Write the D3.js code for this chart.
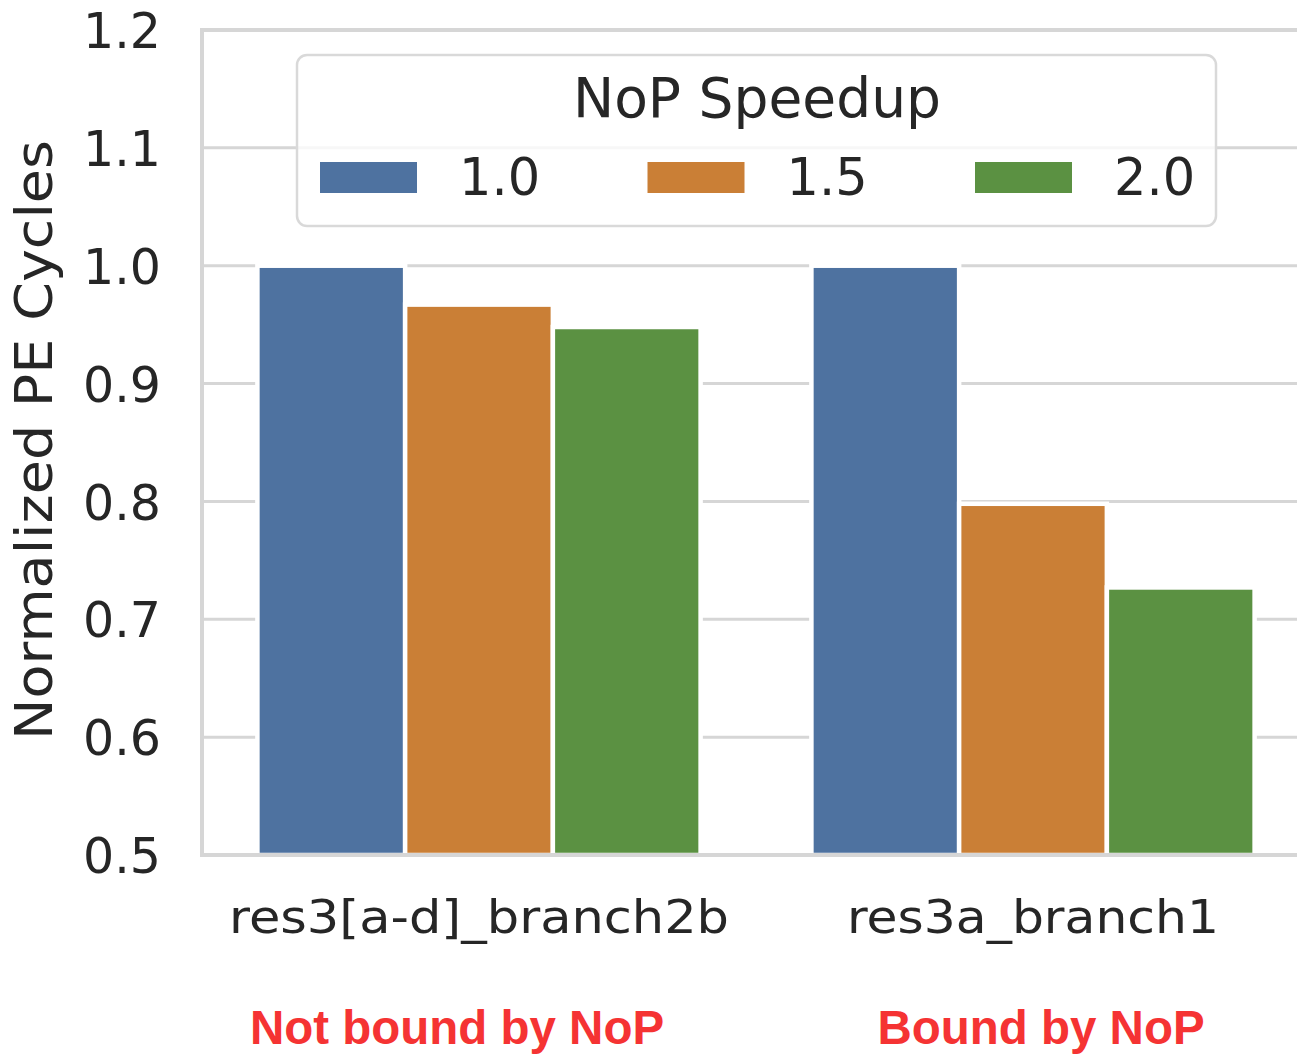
<!DOCTYPE html>
<html>
<head>
<meta charset="utf-8">
<script src="https://cdn.jsdelivr.net/npm/d3@7"></script>
<style>
  html, body { margin: 0; padding: 0; background: #fff; }
  svg { display: block; }
</style>
</head>
<body>
<svg id="chart" width="1297" height="1054"></svg>
<script>
const categories = ["res3[a-d]_branch2b", "res3a_branch1"];
const bottomLabels = ["Not bound by NoP", "Bound by NoP"];
const speedups = ["1.0", "1.5", "2.0"];
const values10 = [1.0, 1.0];
const values15 = [0.967, 0.798];
const values20 = [0.948, 0.727];
const yTicks = [0.5, 0.6, 0.7, 0.8, 0.9, 1.0, 1.1, 1.2];
const colors = ["#4e72a0", "#ca7f36", "#5b9142"];
const legendTitle = "NoP Speedup";
const yTitle = "Normalized PE Cycles";

(function () {
const seriesValues = [values10, values15, values20];
const svg = d3.select("#chart");
const pLeft = 202, pTop = 30, pBottom = 855;
const pRight = pLeft + 2 * 554;

const y = d3.scaleLinear().domain([0.5, 1.2]).range([pBottom, pTop]);
const x0 = d3.scaleBand().domain(categories).range([pLeft, pRight]).paddingInner(0.2).paddingOuter(0.1);
const x1 = d3.scaleBand().domain(speedups).range([0, x0.bandwidth()]);

const grid = "#d6d6d6";
const font = "DejaVu Sans, sans-serif";
const ink = "#262626";

// gridlines
svg.append("g").selectAll("line").data(yTicks).join("line")
  .attr("x1", pLeft).attr("x2", 1297)
  .attr("y1", d => y(d)).attr("y2", d => y(d))
  .attr("stroke", grid).attr("stroke-width", 3);

// bars
const groups = svg.append("g").selectAll("g").data(categories).join("g")
  .attr("transform", d => `translate(${x0(d)},0)`);
groups.selectAll("rect")
  .data((c, ci) => speedups.map((s, si) => ({ s, si, v: seriesValues[si][ci] })))
  .join("rect")
  .attr("x", d => x1(d.s))
  .attr("width", x1.bandwidth())
  .attr("y", d => y(d.v))
  .attr("height", d => y(0.5) - y(d.v))
  .attr("fill", d => colors[d.si])
  .attr("stroke", "#fff").attr("stroke-width", 4.5);

// spines
svg.append("line").attr("x1", pLeft).attr("x2", pLeft).attr("y1", pTop).attr("y2", pBottom)
  .attr("stroke", grid).attr("stroke-width", 4);
svg.append("line").attr("x1", pLeft - 2).attr("x2", 1297).attr("y1", pBottom).attr("y2", pBottom)
  .attr("stroke", grid).attr("stroke-width", 4);
svg.append("line").attr("x1", pLeft - 2).attr("x2", 1297).attr("y1", pTop).attr("y2", pTop)
  .attr("stroke", grid).attr("stroke-width", 4);

// y tick labels
const yAxis = d3.axisLeft(y).tickValues(yTicks).tickFormat(d3.format(".1f")).tickSize(0).tickPadding(41);
const ya = svg.append("g").attr("transform", `translate(${pLeft},0)`).call(yAxis);
ya.select(".domain").remove();
ya.selectAll("text").attr("font-family", font).attr("font-size", 49).attr("fill", ink).attr("dy", "0.36em");

// x tick labels
const xLabelLen = { "res3[a-d]_branch2b": 500, "res3a_branch1": 372 };
const xAxis = d3.axisBottom(x0).tickSize(0).tickPadding(0);
const xa = svg.append("g").attr("transform", `translate(0,${pBottom})`).call(xAxis);
xa.select(".domain").remove();
xa.selectAll("text").attr("font-family", font).attr("font-size", 46).attr("fill", ink)
  .attr("y", 78).attr("dy", 0)
  .attr("textLength", d => xLabelLen[d]).attr("lengthAdjust", "spacingAndGlyphs");

// y title
svg.append("text")
  .attr("transform", `translate(52,440) rotate(-90)`)
  .attr("text-anchor", "middle")
  .attr("font-family", font).attr("font-size", 52).attr("fill", ink)
  .attr("textLength", 600).attr("lengthAdjust", "spacingAndGlyphs")
  .text(yTitle);

// red bottom labels
svg.append("g").selectAll("text").data(categories).join("text")
  .attr("x", (d, i) => x0(d) + x0.bandwidth() / 2 + (i === 0 ? -22 : 8))
  .attr("y", 1044)
  .attr("text-anchor", "middle")
  .attr("font-family", "Liberation Sans, Arial, sans-serif")
  .attr("font-weight", "bold").attr("font-size", 47.5).attr("fill", "#f53333")
  .text((d, i) => bottomLabels[i]);

// legend
const lg = svg.append("g");
lg.append("rect").attr("x", 297).attr("y", 55).attr("width", 919).attr("height", 171)
  .attr("rx", 10).attr("fill", "#fff").attr("fill-opacity", 0.8)
  .attr("stroke", "#d9d9d9").attr("stroke-width", 2.5);
lg.append("text").attr("x", 757).attr("y", 117).attr("text-anchor", "middle")
  .attr("font-family", font).attr("font-size", 55).attr("fill", ink)
  .attr("textLength", 368).attr("lengthAdjust", "spacingAndGlyphs")
  .text(legendTitle);
const items = lg.selectAll("g.item").data(speedups).join("g").attr("class", "item")
  .attr("transform", (d, i) => `translate(${320 + i * 327.5},0)`);
items.append("rect").attr("x", 0).attr("y", 162).attr("width", 97).attr("height", 31)
  .attr("fill", (d, i) => colors[i]);
items.append("text").attr("x", 139).attr("y", 195)
  .attr("font-family", font).attr("font-size", 51).attr("fill", ink).text(d => d);
})();
</script>
</body>
</html>
